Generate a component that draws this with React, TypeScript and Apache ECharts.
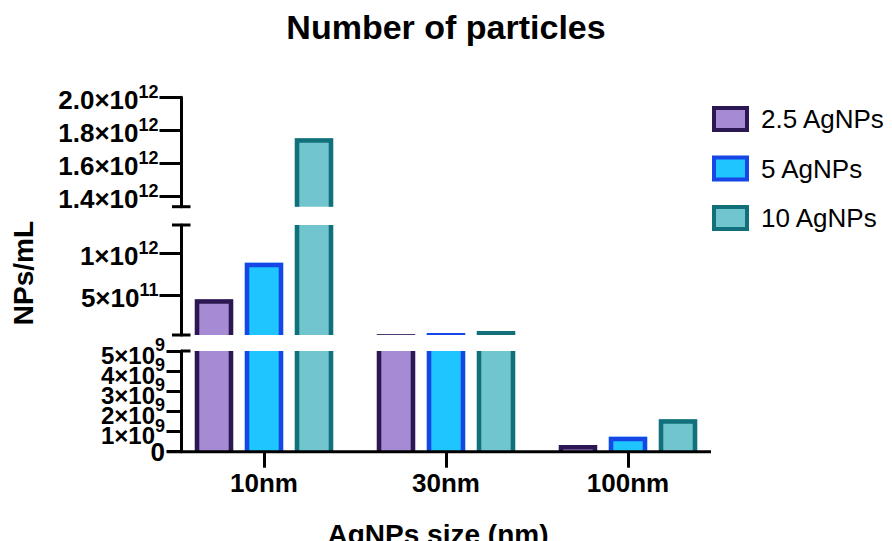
import { useEffect, useRef } from 'react';
import * as echarts from 'echarts';

// ---------- data ----------
const categories = ['10nm', '30nm', '100nm'];
const seriesNames = ['2.5 AgNPs', '5 AgNPs', '10 AgNPs'];
const values25 = [4.48e11, 2.9e10, 3.3e8];
const values5 = [8.87e11, 4.4e10, 7.45e8];
const values10 = [1.751e12, 6.8e10, 1.61e9];
const allValues = [values25, values5, values10];

// broken y axis: three segments (top, middle, bottom)
const topRange = [1.335e12, 2.0e12];
const midRange = [2e10, 1.34e12];
const bottomRange = [0, 5e9];
const topTicks = [1.4e12, 1.6e12, 1.8e12, 2.0e12];
const midTicks = [5e11, 1e12];
const bottomTicks = [0, 1e9, 2e9, 3e9, 4e9, 5e9];
// bottom-segment labels are split over two overlapping axes (odd / even)
const bottomLabelsA = [1e9, 3e9, 5e9];
const bottomLabelsB = [0, 2e9, 4e9];

// ---------- styles ----------
const FONT = '"Liberation Sans", Arial, Helvetica, sans-serif';
const fills = ['#A68AD3', '#1EC5FE', '#71C5CE'];
const borders = ['#2B1752', '#1647E6', '#12707A'];

const richLarge = {
  b: { fontSize: 26, fontWeight: 'bold', fontFamily: FONT, color: '#000', lineHeight: 29, padding: [4, 0, 0, 0], verticalAlign: 'top' },
  s: { fontSize: 18, fontWeight: 'bold', fontFamily: FONT, color: '#000', lineHeight: 29, verticalAlign: 'top' },
  z: { fontSize: 26, fontWeight: 'bold', fontFamily: FONT, color: '#000', lineHeight: 29, verticalAlign: 'middle' },
};
const richSmall = {
  b: { fontSize: 24, fontWeight: 'bold', fontFamily: FONT, color: '#000', lineHeight: 30, padding: [7, 0, 0, 0], verticalAlign: 'top' },
  s: { fontSize: 18, fontWeight: 'bold', fontFamily: FONT, color: '#000', lineHeight: 30, verticalAlign: 'top' },
  z: { fontSize: 26, fontWeight: 'bold', fontFamily: FONT, color: '#000', lineHeight: 30, verticalAlign: 'middle' },
};

const GRID_LEFT = 173;
const GRID_W = 546;
const segs = [
  { top: 97.3, height: 109.4, range: topRange, ticks: topTicks, labels: topTicks, tickLen: 22, margin: 23, digits: 1, rich: richLarge },
  { top: 225, height: 110, range: midRange, ticks: midTicks, labels: midTicks, tickLen: 22, margin: 23, digits: 0, rich: richLarge },
  { top: 351, height: 100.7, range: bottomRange, ticks: bottomTicks, labels: bottomLabelsA, tickLen: 15, margin: 16.5, digits: 0, rich: richSmall },
];
const AXIS_X = 181.5;
const BOTTOM_Y = segs[2].top + segs[2].height;

const sciFormatter = (digits: number) => (v: number) => {
  if (v === 0) return '{z|0}';
  const e = Math.floor(Math.log10(v) + 1e-9);
  const m = v / Math.pow(10, e);
  return `{b|${m.toFixed(digits)}×10}{s|${e}}`;
};

const makeRenderItem = (sIdx: number) => (params: any, api: any) => {
  const cat = api.value(0);
  const val = api.value(1);
  const pt = api.coord([cat, val]);
  const band = api.size([1, 0])[0];
  const barW = band * (38.4 / 182);
  const step = band * (50 / 182);
  const cx = pt[0] + (sIdx - 1) * step;
  const cs = params.coordSys;
  const bottom = cs.y + cs.height;
  let top = pt[1];
  if (!(top < bottom)) return null;
  if (top < cs.y - 10) top = cs.y - 10;
  const lw = 4.5;
  const x0 = cx - barW / 2;
  const x1 = cx + barW / 2;
  return {
    type: 'group',
    children: [
      {
        type: 'rect',
        shape: { x: x0, y: top, width: barW, height: bottom + 6 - top },
        style: { fill: fills[sIdx], stroke: 'none' },
      },
      {
        type: 'polyline',
        shape: {
          points: [
            [x0 + lw / 2, bottom + 6],
            [x0 + lw / 2, top + lw / 2],
            [x1 - lw / 2, top + lw / 2],
            [x1 - lw / 2, bottom + 6],
          ],
        },
        style: { fill: 'none', stroke: borders[sIdx], lineWidth: lw, lineJoin: 'miter' },
      },
    ],
  };
};

const series: any[] = [];
segs.forEach((_, g) => {
  allValues.forEach((vals, s) => {
    series.push({
      type: 'custom',
      name: seriesNames[s],
      xAxisIndex: g,
      yAxisIndex: g,
      clip: true,
      itemStyle: { color: fills[s], borderColor: borders[s] },
      encode: { x: 0, y: 1 },
      data: vals.map((v, i) => [i, v]),
      renderItem: makeRenderItem(s),
    });
  });
});

const capLine = (x1: number, x2: number, y: number) => ({
  type: 'line',
  z: 100,
  shape: { x1, y1: y, x2, y2: y },
  style: { stroke: '#000', lineWidth: 3 },
});

const yAxes: any[] = segs.map((s, i) => ({
  type: 'value',
  gridIndex: i,
  position: 'left',
  min: s.range[0],
  max: s.range[1],
  offset: -(AXIS_X - GRID_LEFT),
  axisLine: { show: true, lineStyle: { color: '#000', width: 3 } },
  axisTick: { show: true, length: s.tickLen, lineStyle: { width: 3, color: '#000' }, customValues: s.ticks },
  axisLabel: {
    margin: s.margin,
    customValues: s.labels,
    showMinLabel: true,
    showMaxLabel: true,
    hideOverlap: false,
    formatter: sciFormatter(s.digits),
    rich: s.rich,
  },
  splitLine: { show: false },
}));
// second label-only axis for the bottom segment
yAxes.push({
  type: 'value',
  gridIndex: 2,
  position: 'left',
  min: bottomRange[0],
  max: bottomRange[1],
  offset: -(AXIS_X - GRID_LEFT),
  axisLine: { show: false },
  axisTick: { show: false },
  axisLabel: {
    margin: segs[2].margin,
    customValues: bottomLabelsB,
    showMinLabel: true,
    showMaxLabel: true,
    hideOverlap: false,
    formatter: sciFormatter(0),
    rich: richSmall,
  },
  splitLine: { show: false },
});

const option: any = {
  animation: false,
  backgroundColor: '#ffffff',
  title: {
    text: 'Number of particles',
    left: 'center',
    top: 5,
    textStyle: { fontSize: 34, fontWeight: 'bold', color: '#000', fontFamily: FONT },
  },
  legend: {
    orient: 'vertical',
    left: 712,
    top: 106,
    padding: 0,
    itemWidth: 33,
    itemHeight: 22,
    itemGap: 23.5,
    icon: 'rect',
    formatter: (name: string) => `{t|${name}}`,
    textStyle: {
      color: '#000',
      rich: { t: { fontSize: 26, fontFamily: FONT, color: '#000', lineHeight: 26, padding: [0, 0, 0, 9] } },
    },
    data: seriesNames.map((n, i) => ({
      name: n,
      itemStyle: { color: fills[i], borderColor: borders[i], borderWidth: 4 },
    })),
  },
  grid: segs.map((s) => ({
    left: GRID_LEFT,
    width: GRID_W,
    top: s.top,
    height: s.height,
    outerBoundsMode: 'none',
  })),
  xAxis: segs.map((_, i) => ({
    type: 'category',
    gridIndex: i,
    data: categories,
    show: i === 2,
    axisLine: { show: false },
    axisTick: { show: true, alignWithLabel: true, length: 16, lineStyle: { width: 3, color: '#000' } },
    axisLabel: { margin: 18, fontSize: 26, fontWeight: 'bold', fontFamily: FONT, color: '#000' },
    name: i === 2 ? 'AgNPs size (nm)' : '',
    nameLocation: 'middle',
    nameGap: 69,
    nameMoveOverlap: false,
    nameTextStyle: { fontSize: 28, fontWeight: 'bold', fontFamily: FONT, color: '#000', padding: [0, 16, 0, 0] },
  })),
  yAxis: yAxes,
  series,
  graphic: [
    capLine(172, 190.5, segs[0].top + segs[0].height),
    capLine(172, 190.5, segs[1].top),
    capLine(172, 190.5, segs[1].top + segs[1].height),
    capLine(181, 190.5, segs[2].top),
    capLine(167, 711, BOTTOM_Y),
    {
      type: 'text',
      z: 100,
      x: 23,
      y: 273,
      rotation: Math.PI / 2,
      style: {
        text: 'NPs/mL',
        fontSize: 28,
        fontWeight: 'bold',
        fontFamily: FONT,
        fill: '#000',
        align: 'center',
        verticalAlign: 'middle',
      },
    },
  ],
};

export default function App() {
  const ref = useRef<HTMLDivElement>(null);
  useEffect(() => {
    const chart = echarts.init(ref.current!, undefined, { renderer: 'svg' });
    chart.setOption(option);
    return () => chart.dispose();
  }, []);
  return (
    <div
      ref={ref}
      style={{ position: 'absolute', left: 0, top: 0, width: 892, height: 541, background: '#fff' }}
    />
  );
}
